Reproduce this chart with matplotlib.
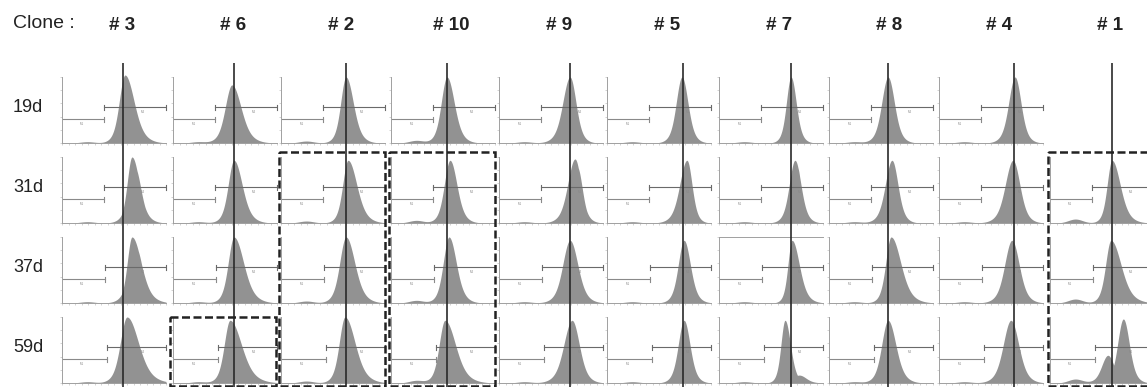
import numpy as np
import matplotlib
matplotlib.use("Agg")
import matplotlib.pyplot as plt
from matplotlib.patches import Rectangle

plt.rcParams['font.family'] = ['Liberation Sans', 'DejaVu Sans']

# ---------------- data (channel units 0-1024) ----------------
clones = ["# 3", "# 6", "# 2", "# 10", "# 9", "# 5", "# 7", "# 8", "# 4", "# 1"]
days = ["19d", "31d", "37d", "59d"]
threshold = [600, 600, 640, 551, 699, 748, 709, 581, 738, 610]
gate_split = [410, 415, 420, 440]           # per day row

# peak mode per day (rows) x clone (cols); None = no measurement
peak_mode = [
    [620, 580, 640, 551, 699, 738, 709, 581, 748, None],
    [689, 600, 660, 581, 748, 787, 748, 620, 728, 610],
    [689, 600, 640, 571, 699, 758, 719, 611, 718, 600],
    [640, 561, 630, 531, 719, 758, 650, 581, 708, 722],
]
sigma_left = [
    [42, 49, 39, 42, 53, 42, 34, 46, 46, 0],
    [35, 42, 39, 42, 53, 53, 42, 49, 56, 35],
    [35, 42, 46, 42, 53, 42, 30, 39, 53, 39],
    [49, 42, 42, 42, 60, 42, 30, 46, 56, 42],
]
sigma_right = [
    [70, 70, 56, 56, 46, 46, 40, 49, 46, 0],
    [56, 63, 67, 53, 46, 39, 46, 46, 53, 63],
    [70, 74, 67, 56, 60, 49, 56, 74, 56, 77],
    [88, 88, 77, 81, 56, 46, 42, 60, 60, 46],
]
peak_height = [
    [1.03, 0.88, 1.00, 1.00, 1.00, 1.00, 1.00, 1.00, 1.00, 0.0],
    [1.00, 0.95, 0.95, 0.95, 0.97, 0.95, 0.95, 0.95, 0.95, 0.95],
    [1.00, 1.00, 1.00, 1.00, 0.95, 0.95, 0.95, 1.00, 0.95, 0.95],
    [1.00, 0.95, 1.00, 0.95, 0.95, 0.95, 0.95, 0.95, 0.95, 0.97],
]
# extra components: (row, col, centre, sigma, height)
extra_components = [
    (1, 0, 715, 55, 0.85),
    (2, 0, 725, 60, 0.85),
    (1, 4, 770, 45, 0.85),
    (1, 6, 770, 35, 0.85),
    (3, 9, 570, 55, 0.42),
    (3, 6, 790, 60, 0.12),
]
debris_height = [0.02, 0.02, 0.03, 0.04, 0.02, 0.02, 0.02, 0.02, 0.02, 0.06]
boxed = [(1, 3), (1, 3), (1, 3), (3, 3)]  # row ranges for boxed columns
boxed_cols = [2, 3, 9, 1]

# ---------------- layout (pixels) ----------------
W, H = 1147, 387
col_left = [62, 173, 281, 391, 499, 607, 719, 829, 939, 1050]
row_top = [77, 157, 237, 317]
pw, ph = 104, 66

fig = plt.figure(figsize=(W / 100, H / 100), dpi=100)


def rect(x0, ytop, w, h):
    return [x0 / W, 1 - (ytop + h) / H, w / W, h / H]


x = np.linspace(0, 1024, 800)
fill_c = '#929292'
axis_c = '#a0a0a0'


def lump(xx, m, sl, sr):
    s = np.where(xx < m, sl, sr)
    d = (xx - m) / s
    return 0.72 * np.exp(-0.5 * d ** 2) + 0.28 * np.exp(-0.5 * (d / 1.7) ** 2)


for r in range(4):
    for c in range(10):
        m = peak_mode[r][c]
        if m is None:
            continue
        ax = fig.add_axes(rect(col_left[c], row_top[r], pw, ph))
        ax.set_xlim(0, 1024)
        ax.set_ylim(0, 1)
        ax.patch.set_visible(False)
        sl, sr, hgt = sigma_left[r][c] * 1.2, sigma_right[r][c] * 1.15, peak_height[r][c]
        y = lump(x, m, sl, sr) * hgt
        for (er, ec, cen, sg, eh) in extra_components:
            if er == r and ec == c:
                y = np.maximum(y, eh * lump(x, cen, sg, sg))
        y = y + debris_height[c] * np.exp(-0.5 * ((x - 250) / 70) ** 2)
        ax.fill_between(x, 0, y, color=fill_c, lw=0, clip_on=False)
        # gates
        g = gate_split[r]
        ax.plot([g, 1024], [0.54, 0.54], color='#6a6a6a', lw=0.8)
        ax.plot([g, g], [0.50, 0.58], color='#6a6a6a', lw=0.8)
        ax.plot([1024, 1024], [0.50, 0.58], color='#6a6a6a', lw=0.8, clip_on=False)
        ax.plot([0, g], [0.36, 0.36], color='#8a8a8a', lw=0.8)
        ax.plot([g, g], [0.32, 0.40], color='#8a8a8a', lw=0.8)
        ax.text(800, 0.50, "M2", fontsize=2.2, color='#888888', ha='center', va='top')
        ax.text(200, 0.32, "M1", fontsize=2.2, color='#888888', ha='center', va='top')
        for s in ['top', 'right']:
            ax.spines[s].set_visible(False)
        if r == 2 and c == 6:
            ax.spines['top'].set_visible(True)
            ax.spines['top'].set_color(axis_c)
            ax.spines['top'].set_linewidth(0.7)
        for s in ['left', 'bottom']:
            ax.spines[s].set_color(axis_c)
            ax.spines[s].set_linewidth(0.7)
        ax.set_xticks(np.arange(0, 1025, 64))
        ax.set_yticks(np.arange(0, 1.01, 0.2))
        ax.tick_params(length=1.5, width=0.5, color='#c0c0c0',
                       labelbottom=False, labelleft=False)

# vertical threshold lines across each column
for c in range(10):
    ov = fig.add_axes(rect(col_left[c], 63, pw, H - 63))
    ov.set_xlim(0, 1024)
    ov.set_ylim(0, 1)
    ov.axis('off')
    ov.axvline(threshold[c], color='#2a2a2a', lw=1.2)

# text
fig.text(13 / W, 1 - 23 / H, "Clone :", fontsize=14, color='#222222',
         ha='left', va='center')
for c, name in enumerate(clones):
    fig.text((col_left[c] + 60) / W, 1 - 25 / H, name, fontsize=13.5,
             fontweight='bold', color='#222222', ha='center', va='center')
for r, d in enumerate(days):
    fig.text(13 / W, 1 - (row_top[r] + ph / 2 - 2.5) / H, d, fontsize=13,
             color='#222222', ha='left', va='center')

# dashed boxes
top_ax = fig.add_axes([0, 0, 1, 1])
top_ax.set_xlim(0, W)
top_ax.set_ylim(H, 0)
top_ax.axis('off')
for (r0, r1), c in zip(boxed, boxed_cols):
    x0 = col_left[c] - 2
    yt = row_top[r0] - 5 if r0 > 0 else row_top[r0]
    if c == 1:
        x0 = col_left[c] - 3
        yt = row_top[r0]
    yb = 386
    top_ax.add_patch(Rectangle((x0, yt), 106, yb - yt, fill=False,
                               ec='#222222', lw=1.8, ls=(0, (3.2, 1.4))))

fig.savefig("out.png", dpi=100)
